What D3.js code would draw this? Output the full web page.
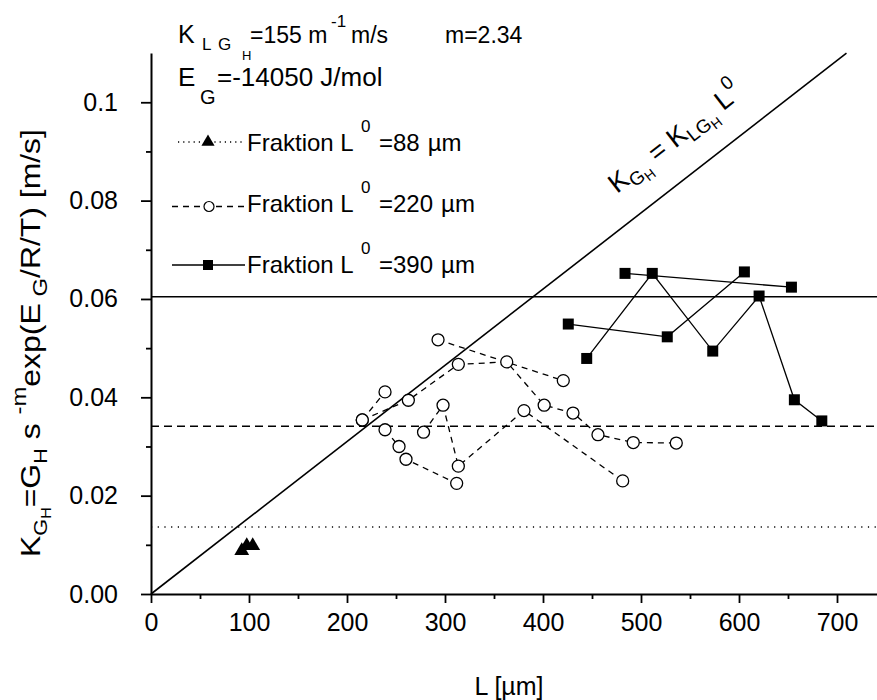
<!DOCTYPE html>
<html>
<head>
<meta charset="utf-8">
<script src="https://cdn.jsdelivr.net/npm/d3@7"></script>
<style>
  body { margin: 0; background: #fff; }
  text { font-family: "Liberation Sans", Arial, sans-serif; fill: #000; }
</style>
</head>
<body>
<svg id="chart" width="877" height="700"></svg>
<script>
// Growth-rate constant and fraction sizes
const KLGH = 155;                       // m^-1 m/s
const fractionL0 = [88, 220, 390];      // µm

// Axis ticks
const xTickValues = [0, 100, 200, 300, 400, 500, 600, 700];
const xMinorTicks = [50, 150, 250, 350, 450, 550, 650, 750];
const yTickValues = [0, 0.02, 0.04, 0.06, 0.08, 0.1];
const yTickLabels = ["0.00", "0.02", "0.04", "0.06", "0.08", "0.1"];
const yMinorTicks = [0.01, 0.03, 0.05, 0.07, 0.09];

// Fraktion L0 = 88 µm  — [L µm, K m/s]
const runs88 = [
  [[92.6, 0.0088], [97.7, 0.0098], [103.8, 0.0098]]
];

// Fraktion L0 = 220 µm
const runs220a = [[215.6, 0.0354], [262.6, 0.0394], [313.6, 0.0467], [363.0, 0.0472],
                  [401.2, 0.0384], [430.6, 0.0368], [456.1, 0.0324], [492.1, 0.0308], [536.0, 0.0307]];
const runs220b = [[215.6, 0.0354], [238.8, 0.0411]];
const runs220c = [[292.9, 0.0517], [420.7, 0.0434]];
const runs220d = [[278.1, 0.0329], [298.0, 0.0384], [313.6, 0.0260], [380.6, 0.0373], [481.3, 0.0230]];
const runs220e = [[238.8, 0.0334], [253.1, 0.0300], [260.2, 0.0274], [311.9, 0.0225]];
const runs220 = [runs220a, runs220b, runs220c, runs220d, runs220e];

// Fraktion L0 = 390 µm
const runs390a = [[425.8, 0.0549], [526.8, 0.0523], [605.5, 0.0655]];
const runs390b = [[444.6, 0.0479], [511.5, 0.0652], [573.2, 0.0494], [620.5, 0.0606], [656.5, 0.0395], [684.5, 0.0352]];
const runs390c = [[483.7, 0.0652], [653.5, 0.0624]];
const runs390 = [runs390a, runs390b, runs390c];

const svg = d3.select("#chart");
const x = d3.scaleLinear().domain([0, 750]).range([151, 886]);
const y = d3.scaleLinear().domain([0, 0.11]).range([594, 53.1]);
const yMax = 0.11;

// Reference lines K = KLGH * L0 for each fraction
const refStyles = ["1.2,5.5", "8,5", null];
fractionL0.forEach((L0, i) => {
  const k = KLGH * L0 * 1e-6;
  const ln = svg.append("line")
    .attr("x1", x(0)).attr("x2", 877)
    .attr("y1", y(k)).attr("y2", y(k))
    .attr("stroke", "#000").attr("stroke-width", 1.4);
  if (refStyles[i]) ln.attr("stroke-dasharray", refStyles[i]);
});

// Diagonal K = KLGH * L
const diagEnd = yMax / (KLGH * 1e-6);
svg.append("path")
  .attr("d", d3.line()([[x(0), y(0)], [x(diagEnd), y(yMax)]]))
  .attr("stroke", "#000").attr("stroke-width", 1.6).attr("fill", "none");

// Axes
const axisFont = g => g.selectAll("text")
  .style("font-family", '"Liberation Sans", Arial, sans-serif')
  .style("font-size", "25px").attr("fill", "#000");

svg.append("g").attr("transform", `translate(0,${y(0)})`)
  .call(d3.axisBottom(x).tickValues(xTickValues).tickSize(9).tickSizeOuter(0).tickPadding(10).tickFormat(d3.format("d")))
  .call(axisFont);
svg.append("g").attr("transform", `translate(0,${y(0)})`)
  .call(d3.axisBottom(x).tickValues(xMinorTicks).tickSize(5).tickSizeOuter(0).tickFormat(""))
  .call(g => g.select(".domain").remove());

svg.append("g").attr("transform", `translate(${x(0)},0)`)
  .call(d3.axisLeft(y).tickValues(yTickValues).tickSize(10).tickSizeOuter(0).tickPadding(23)
        .tickFormat((d, i) => yTickLabels[i]))
  .call(axisFont);
svg.append("g").attr("transform", `translate(${x(0)},0)`)
  .call(d3.axisLeft(y).tickValues(yMinorTicks).tickSize(5).tickSizeOuter(0).tickFormat(""))
  .call(g => g.select(".domain").remove());

svg.selectAll(".domain").attr("stroke-width", 2);
svg.selectAll(".tick line").attr("stroke-width", 1.8);

// Data lines
const line = d3.line().x(d => x(d[0])).y(d => y(d[1]));
const drawRuns = (runs, dash) => runs.forEach(r => {
  const p = svg.append("path").attr("d", line(r))
    .attr("fill", "none").attr("stroke", "#000").attr("stroke-width", 1.3);
  if (dash) p.attr("stroke-dasharray", dash);
});
drawRuns(runs88, "1.2,4");
drawRuns(runs220, "6,5");
drawRuns(runs390, null);

// Markers
const tri = d3.symbol(d3.symbolTriangle, 95)();
const sq = d3.symbol(d3.symbolSquare, 121)();
runs88.flat().forEach(d => svg.append("path").attr("d", tri)
  .attr("transform", `translate(${x(d[0])},${y(d[1])})`).attr("fill", "#000"));
runs220.flat().forEach(d => svg.append("circle")
  .attr("cx", x(d[0])).attr("cy", y(d[1])).attr("r", 6)
  .attr("fill", "#fff").attr("stroke", "#000").attr("stroke-width", 1.3));
runs390.flat().forEach(d => svg.append("path").attr("d", sq)
  .attr("transform", `translate(${x(d[0])},${y(d[1])})`).attr("fill", "#000"));

// Legend
const legend = [
  { y: 142, base: 150.5, dash: "1.2,4", x1: 178, label: "=88", marker: "tri" },
  { y: 206.5, base: 212, dash: "6,5", x1: 172, label: "=220", marker: "circle" },
  { y: 265, base: 273, dash: null, x1: 172, label: "=390", marker: "square" }
];
legend.forEach(e => {
  const l = svg.append("line").attr("x1", e.x1).attr("x2", 245).attr("y1", e.y).attr("y2", e.y)
    .attr("stroke", "#000").attr("stroke-width", 1.3);
  if (e.dash) l.attr("stroke-dasharray", e.dash);
  if (e.marker === "tri") svg.append("path").attr("d", d3.symbol(d3.symbolTriangle, 75)())
    .attr("transform", `translate(208,${e.y})`).attr("fill", "#000");
  if (e.marker === "circle") svg.append("circle").attr("cx", 209).attr("cy", e.y).attr("r", 5)
    .attr("fill", "#fff").attr("stroke", "#000").attr("stroke-width", 1.2);
  if (e.marker === "square") svg.append("path").attr("d", d3.symbol(d3.symbolSquare, 100)())
    .attr("transform", `translate(208,${e.y})`).attr("fill", "#000");
  const t = svg.append("text").attr("x", 247).attr("y", e.base).style("font-size", "24px");
  t.append("tspan").text("Fraktion L");
  t.append("tspan").attr("x", 361).attr("dy", -19).style("font-size", "17px").text("0");
  t.append("tspan").attr("x", 379).attr("dy", 19).text(e.label);
  t.append("tspan").attr("dx", 8).text("µm");
});

// Header lines
const h1 = svg.append("text").attr("x", 178).attr("y", 43).style("font-size", "23px");
h1.append("tspan").style("font-size", "25px").text("K");
h1.append("tspan").attr("x", 202).attr("dy", 7).style("font-size", "17px").text("L");
h1.append("tspan").attr("x", 218).style("font-size", "17px").text("G");
h1.append("tspan").attr("x", 242).attr("dy", 10).style("font-size", "13px").text("H");
h1.append("tspan").attr("x", 250).attr("dy", -17).text("=155 m");
h1.append("tspan").attr("x", 331).attr("dy", -16).style("font-size", "17px").text("-1");
h1.append("tspan").attr("x", 351).attr("dy", 16).text("m/s");
svg.append("text").attr("x", 445).attr("y", 43).style("font-size", "23px").text("m=2.34");

const h2 = svg.append("text").attr("x", 178).attr("y", 86).style("font-size", "26px");
h2.append("tspan").text("E");
h2.append("tspan").attr("x", 200).attr("dy", 18).style("font-size", "20px").text("G");
h2.append("tspan").attr("x", 217).attr("dy", -18).text("=-14050 J/mol");

// Diagonal label
const ang = -Math.atan((y(0) - y(0.01)) / (x(0.01 / (KLGH * 1e-6)) - x(0))) * 180 / Math.PI;
const dl = svg.append("text").attr("transform", `translate(617,194) rotate(${ang})`).style("font-size", "27px");
dl.append("tspan").text("K");
dl.append("tspan").attr("dy", 6).style("font-size", "19px").text("G");
dl.append("tspan").attr("dy", 4).style("font-size", "14px").text("H");
dl.append("tspan").attr("dy", -10).text(" = K");
dl.append("tspan").attr("dy", 6).style("font-size", "19px").text("LG");
dl.append("tspan").attr("dy", 4).style("font-size", "14px").text("H");
dl.append("tspan").attr("dy", -10).text(" L");
dl.append("tspan").attr("dy", -14).style("font-size", "19px").text("0");

// Y axis title (stretched along its length)
const yt = svg.append("text").attr("transform", "translate(40,557) rotate(-90) scale(1.14,1)").style("font-size", "28px");
yt.append("tspan").text("K");
yt.append("tspan").attr("dy", 7).style("font-size", "19px").text("G");
yt.append("tspan").attr("dy", 4).style("font-size", "14px").text("H");
yt.append("tspan").attr("dy", -11).text("=G");
yt.append("tspan").attr("dy", 7).style("font-size", "19px").text("H");
yt.append("tspan").attr("dy", -7).text(" s ");
yt.append("tspan").attr("dy", -14).style("font-size", "21px").text("-m");
yt.append("tspan").attr("dy", 14).text("exp(E");
yt.append("tspan").attr("dy", 7).style("font-size", "21px").text(" G");
yt.append("tspan").attr("dy", -7).text("/R/T) [m/s]");

// X axis title
svg.append("text").attr("x", 509).attr("y", 695).attr("text-anchor", "middle")
  .style("font-size", "25px").text("L [µm]");
</script>
</body>
</html>
